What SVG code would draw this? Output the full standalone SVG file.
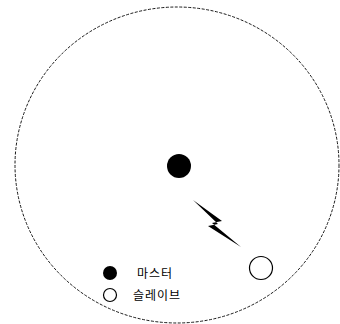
<svg xmlns="http://www.w3.org/2000/svg" width="340" height="324" viewBox="0 0 340 324">
<style>
.lbl{font-family:"Noto Sans CJK KR","Noto Sans",sans-serif;font-size:12px;fill:#000;letter-spacing:1px}
</style>
<rect width="340" height="324" fill="#fff"/>
<g id="range">
<ellipse cx="177" cy="165" rx="162" ry="158" fill="none" stroke="#000" stroke-width="0.9" stroke-dasharray="3,1.5"/>
</g>
<g id="master">
<circle cx="179" cy="166" r="12" fill="#000"/>
</g>
<g id="slave">
<circle cx="261" cy="268" r="11.5" fill="#fff" stroke="#000" stroke-width="1.2"/>
</g>
<g id="connectors">
<polygon points="193,200 222,221 212,223 241,247 208,226 218,224" fill="#000"/>
</g>
<g id="legend">
<circle cx="110" cy="273" r="7" fill="#000"/>
<text class="lbl" x="137" y="278">마스터</text>
<circle cx="110" cy="295" r="6.5" fill="#fff" stroke="#000" stroke-width="1.2"/>
<text class="lbl" x="133" y="300">슬레이브</text>
</g>
</svg>
